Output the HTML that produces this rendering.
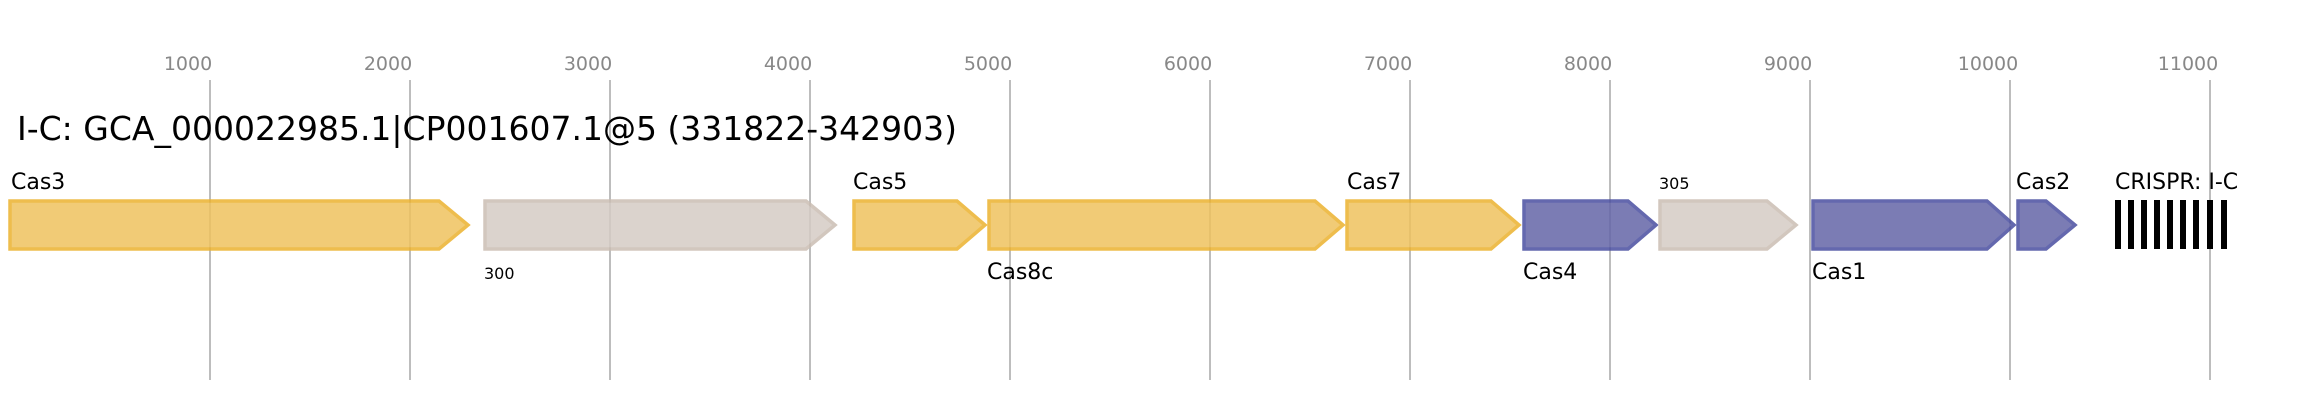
<!DOCTYPE html>
<html><head><meta charset="utf-8"><style>body{margin:0;background:#fff}svg{display:block}</style></head>
<body>
<svg width="2316" height="400" xmlns="http://www.w3.org/2000/svg" font-family="DejaVu Sans, sans-serif">
<g stroke="#bdbdbd" stroke-width="2">
<line x1="210" y1="80" x2="210" y2="380"/><line x1="410" y1="80" x2="410" y2="380"/><line x1="610" y1="80" x2="610" y2="380"/><line x1="810" y1="80" x2="810" y2="380"/><line x1="1010" y1="80" x2="1010" y2="380"/><line x1="1210" y1="80" x2="1210" y2="380"/><line x1="1410" y1="80" x2="1410" y2="380"/><line x1="1610" y1="80" x2="1610" y2="380"/><line x1="1810" y1="80" x2="1810" y2="380"/><line x1="2010" y1="80" x2="2010" y2="380"/><line x1="2210" y1="80" x2="2210" y2="380"/>
</g>
<g fill="#888" font-size="19" text-anchor="middle">
<text x="188" y="70">1000</text><text x="388" y="70">2000</text><text x="588" y="70">3000</text><text x="788" y="70">4000</text><text x="988" y="70">5000</text><text x="1188" y="70">6000</text><text x="1388" y="70">7000</text><text x="1588" y="70">8000</text><text x="1788" y="70">9000</text><text x="1988" y="70">10000</text><text x="2188" y="70">11000</text>
</g>
<text x="17" y="140" font-size="33" fill="#000">I-C: GCA_000022985.1|CP001607.1@5 (331822-342903)</text>
<g stroke-width="3.5" opacity="0.85">
<polygon points="10,201 439,201 468,225 439,249 10,249" fill="#efc25f" stroke="#ecb22e"/>
<polygon points="485,201 806,201 835,225 806,249 485,249" fill="#d5ccc5" stroke="#cbbeb3"/>
<polygon points="854,201 957,201 985,225 957,249 854,249" fill="#efc25f" stroke="#ecb22e"/>
<polygon points="989,201 1315,201 1343,225 1315,249 989,249" fill="#efc25f" stroke="#ecb22e"/>
<polygon points="1347,201 1491,201 1519,225 1491,249 1347,249" fill="#efc25f" stroke="#ecb22e"/>
<polygon points="1524,201 1628,201 1656,225 1628,249 1524,249" fill="#6466a8" stroke="#4a4ea0"/>
<polygon points="1660,201 1767,201 1796,225 1767,249 1660,249" fill="#d5ccc5" stroke="#cbbeb3"/>
<polygon points="1813,201 1987,201 2014,225 1987,249 1813,249" fill="#6466a8" stroke="#4a4ea0"/>
<polygon points="2018,201 2046,201 2075,225 2046,249 2018,249" fill="#6466a8" stroke="#4a4ea0"/>
</g>
<g fill="#000">
<rect x="2115" y="200" width="6" height="49"/><rect x="2128" y="200" width="6" height="49"/><rect x="2141" y="200" width="6" height="49"/><rect x="2154" y="200" width="6" height="49"/><rect x="2167" y="200" width="6" height="49"/><rect x="2180" y="200" width="6" height="49"/><rect x="2193" y="200" width="6" height="49"/><rect x="2207" y="200" width="6" height="49"/><rect x="2221" y="200" width="6" height="49"/>
</g>
<g fill="#000" font-size="22">
<text x="11" y="189">Cas3</text>
<text x="853" y="189">Cas5</text>
<text x="1347" y="189">Cas7</text>
<text x="2016" y="189">Cas2</text>
<text x="2115" y="189">CRISPR: I-C</text>
<text x="987" y="279">Cas8c</text>
<text x="1523" y="279">Cas4</text>
<text x="1812" y="279">Cas1</text>
<text x="1659" y="189" font-size="16">305</text>
<text x="484" y="279" font-size="16">300</text>
</g>
</svg>
</body></html>
